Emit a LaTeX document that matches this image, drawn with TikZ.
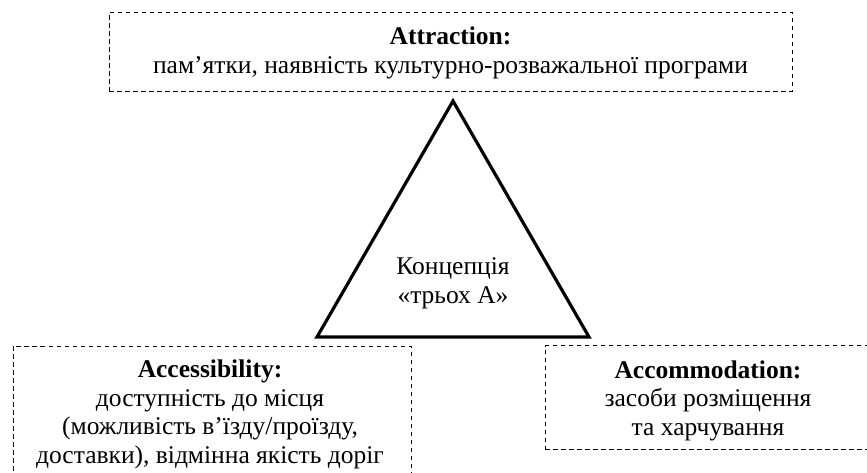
\documentclass[tikz,border=0pt]{standalone}
\usepackage{fontspec}
\setmainfont{Liberation Serif}
\begin{document}
\begin{tikzpicture}[x=1pt,y=-1pt,
  dbox/.style={draw, dash pattern=on 4.5pt off 3.5pt, line width=0.8pt, inner sep=0pt, minimum width=#1},
  txt/.style={align=center, font=\fontsize{25.5}{28.5}\selectfont, inner sep=0pt, anchor=base},
  tri/.style={draw, line width=3.2pt, line join=miter}]
\useasboundingbox (0,0) rectangle (867,472);
\clip (0,0) rectangle (867,472);
% boxes
\node[dbox=683pt, minimum height=79pt] (topbox) at (450.5,51.5) {};
\node[dbox=398pt, minimum height=140pt] (leftbox) at (212,416) {};
\node[dbox=326pt, minimum height=104pt] (rightbox) at (708,397.5) {};
% texts (anchored at the baseline of their last line)
\node[txt] (toptext) at (450.5,73) {\textbf{Attraction:}\\пам’ятки, наявність культурно-розважальної програми};
\node[txt] (lefttext) at (210,463) {\textbf{Accessibility:}\\доступність до місця\\(можливість в’їзду/проїзду,\\доставки), відмінна якість доріг};
\node[txt] (righttext) at (708,435) {\textbf{Accommodation:}\\засоби розміщення\\та харчування};
% triangle
\coordinate (apex) at (453,101);
\coordinate (bl) at (317,337);
\coordinate (br) at (589,337);
\draw[tri] (apex) -- (bl) -- (br) -- cycle;
\node[txt] (concept) at (453,303) {Концепція\\«трьох А»};
\end{tikzpicture}
\end{document}
